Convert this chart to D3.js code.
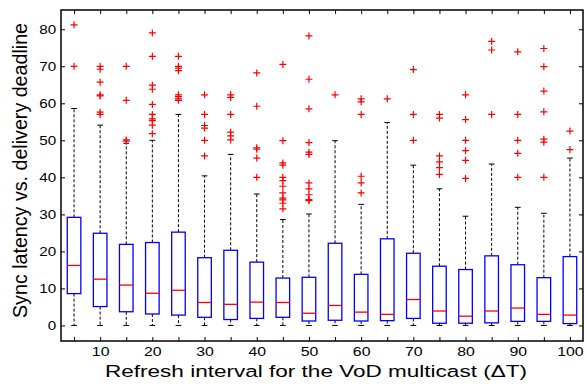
<!DOCTYPE html>
<html>
<head>
<meta charset="utf-8">
<script src="https://cdn.jsdelivr.net/npm/d3@7"></script>
<style>
  body { margin: 0; background: #fff; }
  text { font-family: "Liberation Sans", Arial, sans-serif; }
</style>
</head>
<body>
<div id="chart"></div>
<script>
// refresh interval (x categories)
var intervals = [5, 10, 15, 20, 25, 30, 35, 40, 45, 50, 55, 60, 65, 70, 75, 80, 85, 90, 95, 100];
var q1      = [8.6, 5.1, 3.7, 3.1, 2.8, 2.2, 1.6, 1.9, 2.2, 1.2, 1.4, 1.2, 1.3, 1.9, 0.6, 0.6, 0.7, 1.1, 1.1, 0.5];
var medians = [16.2, 12.5, 10.9, 8.7, 9.5, 6.2, 5.7, 6.3, 6.2, 3.3, 5.4, 3.6, 3.0, 7.0, 3.9, 2.5, 3.9, 4.7, 3.0, 2.8];
var q3      = [29.2, 24.9, 21.9, 22.4, 25.2, 18.3, 20.3, 17.1, 12.8, 13.0, 22.2, 13.8, 23.4, 19.5, 16.0, 15.1, 18.8, 16.4, 12.9, 18.6];
var whiskLo = [0, 0, 0, 0, 0, 0, 0, 0, 0, 0, 0, 0, 0, 0, 0, 0, 0, 0, 0, 0];
var whiskHi = [58.6, 54.1, 49.2, 50.0, 57.0, 40.4, 46.2, 35.5, 28.6, 30.1, 49.9, 32.7, 54.8, 43.3, 36.9, 29.5, 43.6, 31.9, 30.3, 45.2];
var outliers = [
  [81.2, 70],
  [70, 69.2, 65.7, 62.3, 62, 57.6, 57],
  [70, 60.8, 50.1, 49.8],
  [79, 72.7, 64.9, 63.8, 59.7, 57, 55.8, 55.3, 54.1, 51.8],
  [72.7, 70, 69.5, 68.8, 62.3, 61.8, 61.2, 60.8],
  [62.3, 57, 54, 53.3, 50, 45.8],
  [62.3, 61.6, 57, 52.2, 51.2, 50.1],
  [68.2, 59.2, 48, 47.6, 45.2, 40],
  [70.5, 49.9, 43.9, 43.3, 40, 39.1, 37.6, 35.8, 34.4, 33.9, 33, 31.5],
  [78.2, 66.5, 58.5, 49.4, 46.8, 46.2, 38.5, 36.9, 35.3, 34, 33.7],
  [62.3],
  [61.2, 60.4, 57, 40.3, 38.5, 35.8],
  [61.2],
  [69.1, 57, 50],
  [57, 56, 45.8, 44.2, 42.6, 40.8],
  [62.3, 55.6, 50, 47.2, 44.6, 39.7],
  [76.7, 74.4, 57],
  [73.9, 57, 50, 46.5, 40],
  [74.8, 69.9, 63.3, 57.7, 50.3, 49.5, 40],
  [52.5, 47.5]
];
var xTickLabels = [10, 20, 30, 40, 50, 60, 70, 80, 90, 100];
var yTicks = [0, 10, 20, 30, 40, 50, 60, 70, 80];

var W = 587, H = 390;
var margin = { top: 10, right: 4, bottom: 49, left: 61 },
    width  = W - margin.left - margin.right,
    height = H - margin.top - margin.bottom;
var stretch = 1.22; // the original figure is wider than tall, text looks stretched

var svg = d3.select("#chart").append("svg")
    .attr("width", W)
    .attr("height", H)
  .append("g")
    .attr("transform", `translate(${margin.left},${margin.top})`);

var x = d3.scaleLinear().domain([0.5, intervals.length + 0.5]).range([0, width]);
var y = d3.scaleLinear().domain([-4.2, 85.2]).range([height, 0]);
var step = x(2) - x(1);
var boxW = step * 0.52;
var capW = step * 0.22;

var data = intervals.map((d, i) => ({
  i: i + 1, lo: whiskLo[i], q1: q1[i], med: medians[i], q3: q3[i], hi: whiskHi[i], out: outliers[i]
}));

var g = svg.selectAll(".box").data(data).enter().append("g").attr("class", "box");

// whiskers (dashed)
g.append("line")
  .attr("x1", d => x(d.i)).attr("x2", d => x(d.i))
  .attr("y1", d => y(d.q3)).attr("y2", d => y(d.hi))
  .attr("stroke", "#000").attr("stroke-dasharray", "3,2");
g.append("line")
  .attr("x1", d => x(d.i)).attr("x2", d => x(d.i))
  .attr("y1", d => y(d.q1)).attr("y2", d => y(d.lo))
  .attr("stroke", "#000").attr("stroke-dasharray", "3,2");
// caps
g.append("line")
  .attr("x1", d => x(d.i) - capW / 2).attr("x2", d => x(d.i) + capW / 2)
  .attr("y1", d => y(d.hi)).attr("y2", d => y(d.hi))
  .attr("stroke", "#000");
g.append("line")
  .attr("x1", d => x(d.i) - capW / 2).attr("x2", d => x(d.i) + capW / 2)
  .attr("y1", d => y(d.lo)).attr("y2", d => y(d.lo))
  .attr("stroke", "#000");
// box
g.append("rect")
  .attr("x", d => x(d.i) - boxW / 2)
  .attr("y", d => y(d.q3))
  .attr("width", boxW)
  .attr("height", d => y(d.q1) - y(d.q3))
  .attr("fill", "none")
  .attr("stroke", "#0000ff")
  .attr("stroke-width", 1.3);
// median
g.append("line")
  .attr("x1", d => x(d.i) - boxW / 2).attr("x2", d => x(d.i) + boxW / 2)
  .attr("y1", d => y(d.med)).attr("y2", d => y(d.med))
  .attr("stroke", "#ff0000").attr("stroke-width", 1.3);

// outliers (+)
g.selectAll(".out")
  .data(d => d.out.map(v => ({ i: d.i, v: v })))
  .enter().append("path")
  .attr("class", "out")
  .attr("d", "M-3.5,0H3.5M0,-3.5V3.5")
  .attr("transform", d => `translate(${x(d.i)},${y(d.v)})`)
  .attr("stroke", "#ff0000")
  .attr("stroke-width", 1.2)
  .attr("fill", "none");

// frame
svg.append("rect")
  .attr("width", width).attr("height", height)
  .attr("fill", "none").attr("stroke", "#000").attr("stroke-width", 1.5);

// axes with inward ticks
var tickIdx = intervals.map((d, i) => i + 1);
var labelOf = i => xTickLabels.indexOf(intervals[i - 1]) >= 0 ? intervals[i - 1] : "";

svg.append("g")
  .attr("transform", `translate(0,${height})`)
  .call(d3.axisBottom(x).tickValues(tickIdx).tickFormat(labelOf).tickSizeInner(-4).tickSizeOuter(0).tickPadding(6))
  .call(a => a.select(".domain").remove())
  .selectAll("text")
    .style("font-size", "13px").attr("fill", "#000")
    .attr("transform", `scale(${stretch},1)`);
svg.append("g")
  .call(d3.axisTop(x).tickValues(tickIdx).tickFormat("").tickSizeInner(-4).tickSizeOuter(0))
  .call(a => a.select(".domain").remove());
svg.append("g")
  .call(d3.axisLeft(y).tickValues(yTicks).tickSizeInner(-4).tickSizeOuter(0).tickPadding(4))
  .call(a => a.select(".domain").remove())
  .selectAll("text")
    .style("font-size", "12.5px").attr("fill", "#000")
    .attr("transform", `scale(${stretch},1)`);
svg.append("g")
  .attr("transform", `translate(${width},0)`)
  .call(d3.axisRight(y).tickValues(yTicks).tickFormat("").tickSizeInner(-4).tickSizeOuter(0))
  .call(a => a.select(".domain").remove());

svg.selectAll(".tick line").attr("stroke", "#000");

// axis labels
svg.append("text")
  .attr("x", 316 - margin.left)
  .attr("y", 377 - margin.top)
  .attr("text-anchor", "middle")
  .attr("textLength", 422)
  .attr("lengthAdjust", "spacingAndGlyphs")
  .style("font-size", "16.3px")
  .text("Refresh interval for the VoD multicast (\u0394T)");

svg.append("text")
  .attr("transform", `translate(${27 - margin.left},${170.5 - margin.top}) scale(${stretch},1) rotate(-90)`)
  .attr("text-anchor", "middle")
  .attr("textLength", 295)
  .attr("lengthAdjust", "spacingAndGlyphs")
  .style("font-size", "17px")
  .text("Sync latency vs. delivery deadline");
</script>
</body>
</html>
